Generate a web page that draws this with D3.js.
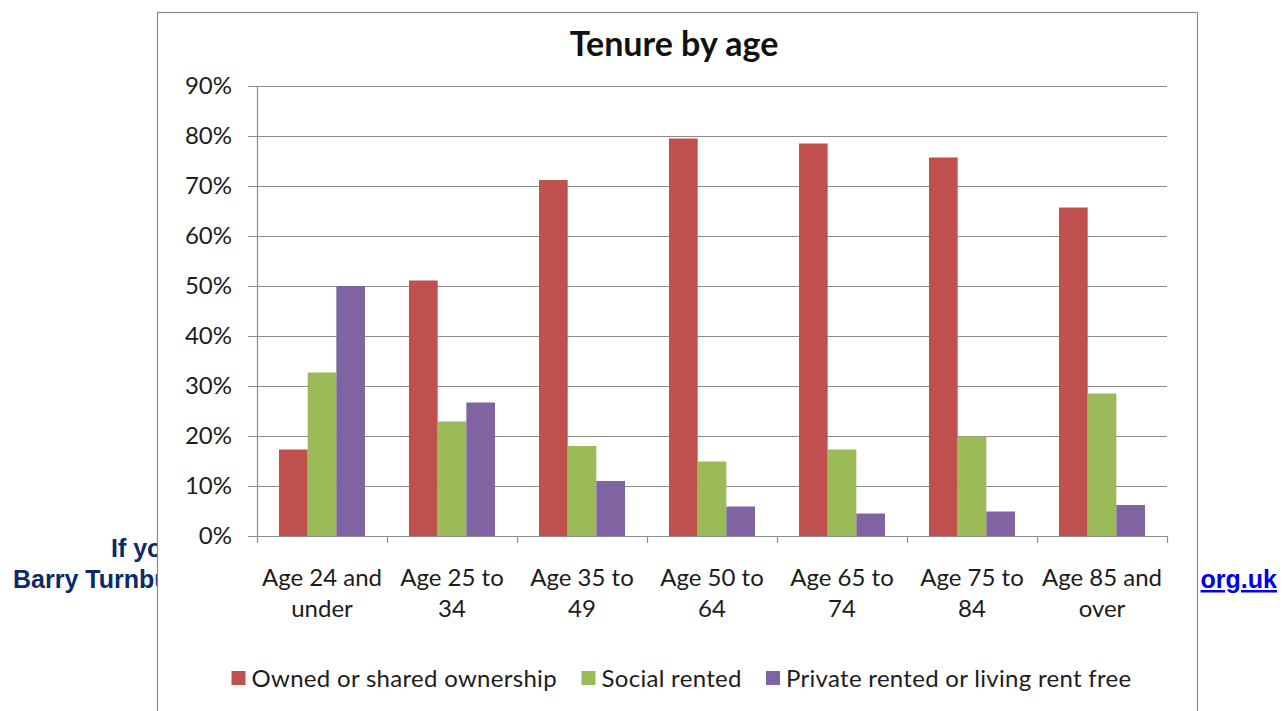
<!DOCTYPE html>
<html>
<head>
<meta charset="utf-8">
<script src="https://cdn.jsdelivr.net/npm/d3@7.9.0/dist/d3.min.js"></script>
<style>
  html, body { margin: 0; padding: 0; background: #fff; overflow: hidden; }
  svg { display: block; }
</style>
</head>
<body>
<svg id="chart" width="1283" height="711"></svg>
<script>
// Chart data
const title = 'Tenure by age';
const categories = [
  ['Age 24 and', 'under'],
  ['Age 25 to', '34'],
  ['Age 35 to', '49'],
  ['Age 50 to', '64'],
  ['Age 65 to', '74'],
  ['Age 75 to', '84'],
  ['Age 85 and', 'over']
];
const seriesNames = ['Owned or shared ownership', 'Social rented', 'Private rented or living rent free'];
const owned = [17.3, 51.1, 71.2, 79.5, 78.5, 75.7, 65.7];
const social = [32.7, 22.9, 18.0, 14.9, 17.3, 19.9, 28.5];
const privateRented = [50.0, 26.7, 11.0, 5.9, 4.5, 4.9, 6.2];
const seriesColors = ['#c0504d', '#9bbb59', '#8064a2'];
const yTicks = [0, 10, 20, 30, 40, 50, 60, 70, 80, 90];

const seriesValues = [owned, social, privateRented];
const font = 'Lato, "Open Sans", sans-serif';
const textColor = '#1c1c1c';
const pageFont = '"Liberation Sans", Arial, sans-serif';

const svg = d3.select('#chart');

// Page text sitting behind the chart picture, cut off by its frame
svg.append('clipPath').attr('id', 'leftClip')
  .append('rect').attr('x', 0).attr('y', 0).attr('width', 157).attr('height', 711);

const pageText = svg.append('g')
  .attr('clip-path', 'url(#leftClip)')
  .attr('font-family', pageFont)
  .attr('font-weight', 'bold').attr('font-size', 25)
  .attr('fill', '#0b2a6a');
pageText.append('text')
  .attr('x', 111).attr('y', 557)
  .text('If you');
pageText.append('text')
  .attr('x', 13).attr('y', 588)
  .text('Barry Turnbull');

svg.append('text')
  .attr('x', 1277).attr('y', 588)
  .attr('text-anchor', 'end')
  .attr('font-family', pageFont)
  .attr('font-weight', 'bold').attr('font-size', 25)
  .attr('fill', '#0000ee')
  .attr('text-decoration', 'underline')
  .text('org.uk');

// Chart picture frame
svg.append('rect')
  .attr('x', 157.5).attr('y', 12.5)
  .attr('width', 1040).attr('height', 720)
  .attr('fill', '#fff')
  .attr('stroke', '#8a8a8a')
  .attr('stroke-width', 1.2);

// Scales
const plotLeft = 257, plotRight = 1167, plotTop = 86, plotBottom = 536;
const gap = 44 / 130;

const x0 = d3.scaleBand()
  .domain(d3.range(categories.length))
  .range([plotLeft, plotRight])
  .paddingInner(gap)
  .paddingOuter(gap / 2);

const x1 = d3.scaleBand()
  .domain(d3.range(seriesNames.length))
  .range([0, x0.bandwidth()]);

const y = d3.scaleLinear()
  .domain([0, 90])
  .range([plotBottom, plotTop]);

// Gridlines
svg.append('g')
  .selectAll('line')
  .data(yTicks)
  .join('line')
  .attr('x1', plotLeft - 9).attr('x2', plotRight)
  .attr('y1', d => Math.round(y(d)) + 0.5).attr('y2', d => Math.round(y(d)) + 0.5)
  .attr('stroke', '#8c8c8c')
  .attr('stroke-width', 1.2);

// Y axis labels
svg.append('g')
  .selectAll('text')
  .data(yTicks)
  .join('text')
  .attr('x', 232).attr('y', d => y(d) + 8)
  .attr('text-anchor', 'end')
  .attr('font-family', font).attr('font-size', 24)
  .attr('fill', textColor)
  .text(d => d + '%');

// Y axis line
svg.append('line')
  .attr('x1', plotLeft + 0.5).attr('x2', plotLeft + 0.5)
  .attr('y1', plotTop).attr('y2', plotBottom)
  .attr('stroke', '#8c8c8c').attr('stroke-width', 1.2);

// Bars
const groups = svg.append('g')
  .selectAll('g')
  .data(categories.map((c, i) => i))
  .join('g')
  .attr('transform', i => `translate(${x0(i)},0)`);

groups.selectAll('rect')
  .data(i => seriesValues.map((vals, s) => ({ s, v: vals[i] })))
  .join('rect')
  .attr('x', d => x1(d.s))
  .attr('y', d => y(d.v))
  .attr('width', x1.bandwidth())
  .attr('height', d => plotBottom - y(d.v))
  .attr('fill', d => seriesColors[d.s]);

// X axis line and tick marks
const step = x0.step();
svg.append('line')
  .attr('x1', plotLeft).attr('x2', plotRight)
  .attr('y1', plotBottom + 0.5).attr('y2', plotBottom + 0.5)
  .attr('stroke', '#8c8c8c').attr('stroke-width', 1.2);
svg.append('g')
  .selectAll('line')
  .data(d3.range(categories.length + 1))
  .join('line')
  .attr('x1', i => plotLeft + i * step + 0.5).attr('x2', i => plotLeft + i * step + 0.5)
  .attr('y1', plotBottom).attr('y2', plotBottom + 7)
  .attr('stroke', '#8c8c8c').attr('stroke-width', 1.2);

// Category labels
const catLabels = svg.append('g')
  .selectAll('text')
  .data(categories)
  .join('text')
  .attr('text-anchor', 'middle')
  .attr('font-family', font).attr('font-size', 24)
  .attr('fill', textColor);
catLabels.each(function (lines, i) {
  const cx = x0(i) + x0.bandwidth() / 2;
  lines.forEach((line, k) => {
    d3.select(this).append('tspan')
      .attr('x', cx)
      .attr('y', 586 + k * 31)
      .text(line);
  });
});

// Title
svg.append('text')
  .attr('x', 674).attr('y', 56)
  .attr('text-anchor', 'middle')
  .attr('font-family', font).attr('font-weight', 'bold').attr('font-size', 34)
  .attr('fill', '#111')
  .text(title);

// Legend
const legendX = [231.5, 581.5, 766];
const legend = svg.append('g')
  .selectAll('g')
  .data(seriesNames)
  .join('g')
  .attr('transform', (d, i) => `translate(${legendX[i]},671)`);
legend.append('rect')
  .attr('width', 14).attr('height', 14)
  .attr('fill', (d, i) => seriesColors[i]);
legend.append('text')
  .attr('x', 20).attr('y', 16)
  .attr('font-family', font).attr('font-size', 24)
  .attr('letter-spacing', 0.3)
  .attr('fill', textColor)
  .text(d => d);
</script>
</body>
</html>
